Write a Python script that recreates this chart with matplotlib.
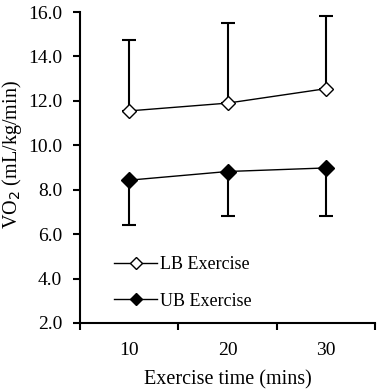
import numpy as np
import matplotlib
matplotlib.use("Agg")
import matplotlib.pyplot as plt

times = ["10", "20", "30"]
lb_mean = [11.55, 11.9, 12.55]
lb_sd = [3.2, 3.6, 3.27]
ub_mean = [8.43, 8.82, 8.98]
ub_sd = [2.0, 2.0, 2.15]
y_ticks = [2.0, 4.0, 6.0, 8.0, 10.0, 12.0, 14.0, 16.0]

plt.rcParams['font.family'] = ['Liberation Serif', 'DejaVu Serif']

fig = plt.figure(figsize=(3.78, 3.90), dpi=100)
ax = fig.add_axes([0.212, 0.172, 0.78, 0.797])

x = np.arange(len(times))

# error bars: LB upward only, UB downward only
ax.errorbar(x, lb_mean, yerr=[np.zeros(3), lb_sd], fmt='none', ecolor='black',
            elinewidth=1.5, capsize=4.7, capthick=1.5)
ax.errorbar(x, ub_mean, yerr=[ub_sd, np.zeros(3)], fmt='none', ecolor='black',
            elinewidth=1.5, capsize=4.7, capthick=1.5)
ax.plot(x, lb_mean, color='black', lw=1.0, marker='D', markersize=7.5,
        markerfacecolor='white', markeredgecolor='black', markeredgewidth=1.0,
        label='LB Exercise', zorder=3)
ax.plot(x, ub_mean, color='black', lw=1.0, marker='D', markersize=8,
        markerfacecolor='black', markeredgecolor='black', label='UB Exercise', zorder=3)

ax.set_xlim(-0.5, 2.5)
ax.set_ylim(2.0, 16.0)
ax.set_yticks(y_ticks)
ax.set_yticklabels([f"{v:.1f}" for v in y_ticks])
ax.set_xticks([-0.5, 0.5, 1.5, 2.5])
ax.set_xticklabels([])
ax.set_xticks(x, minor=True)
ax.set_xticklabels(times, minor=True)
ax.tick_params(axis='x', which='minor', length=0, labelsize=14, pad=14)
ax.tick_params(axis='x', which='major', direction='out', length=5, width=1.5)
ax.tick_params(axis='y', direction='out', length=5, width=1.5, labelsize=14, pad=8)

for s in ['top', 'right']:
    ax.spines[s].set_visible(False)
for s in ['left', 'bottom']:
    ax.spines[s].set_linewidth(1.5)

ax.set_xlabel("Exercise time (mins)", fontsize=14.5, labelpad=8)
ax.set_ylabel("VO$_2$ (mL/kg/min)", fontsize=14.5, labelpad=3)
ax.yaxis.label.set_y(0.54)

ax.legend(loc='lower left', bbox_to_anchor=(0.06, -0.01), frameon=False,
          fontsize=13, handlelength=2.4, handletextpad=0.15, labelspacing=1.1,
          markerscale=0.8)

fig.savefig("out.png", dpi=100)
